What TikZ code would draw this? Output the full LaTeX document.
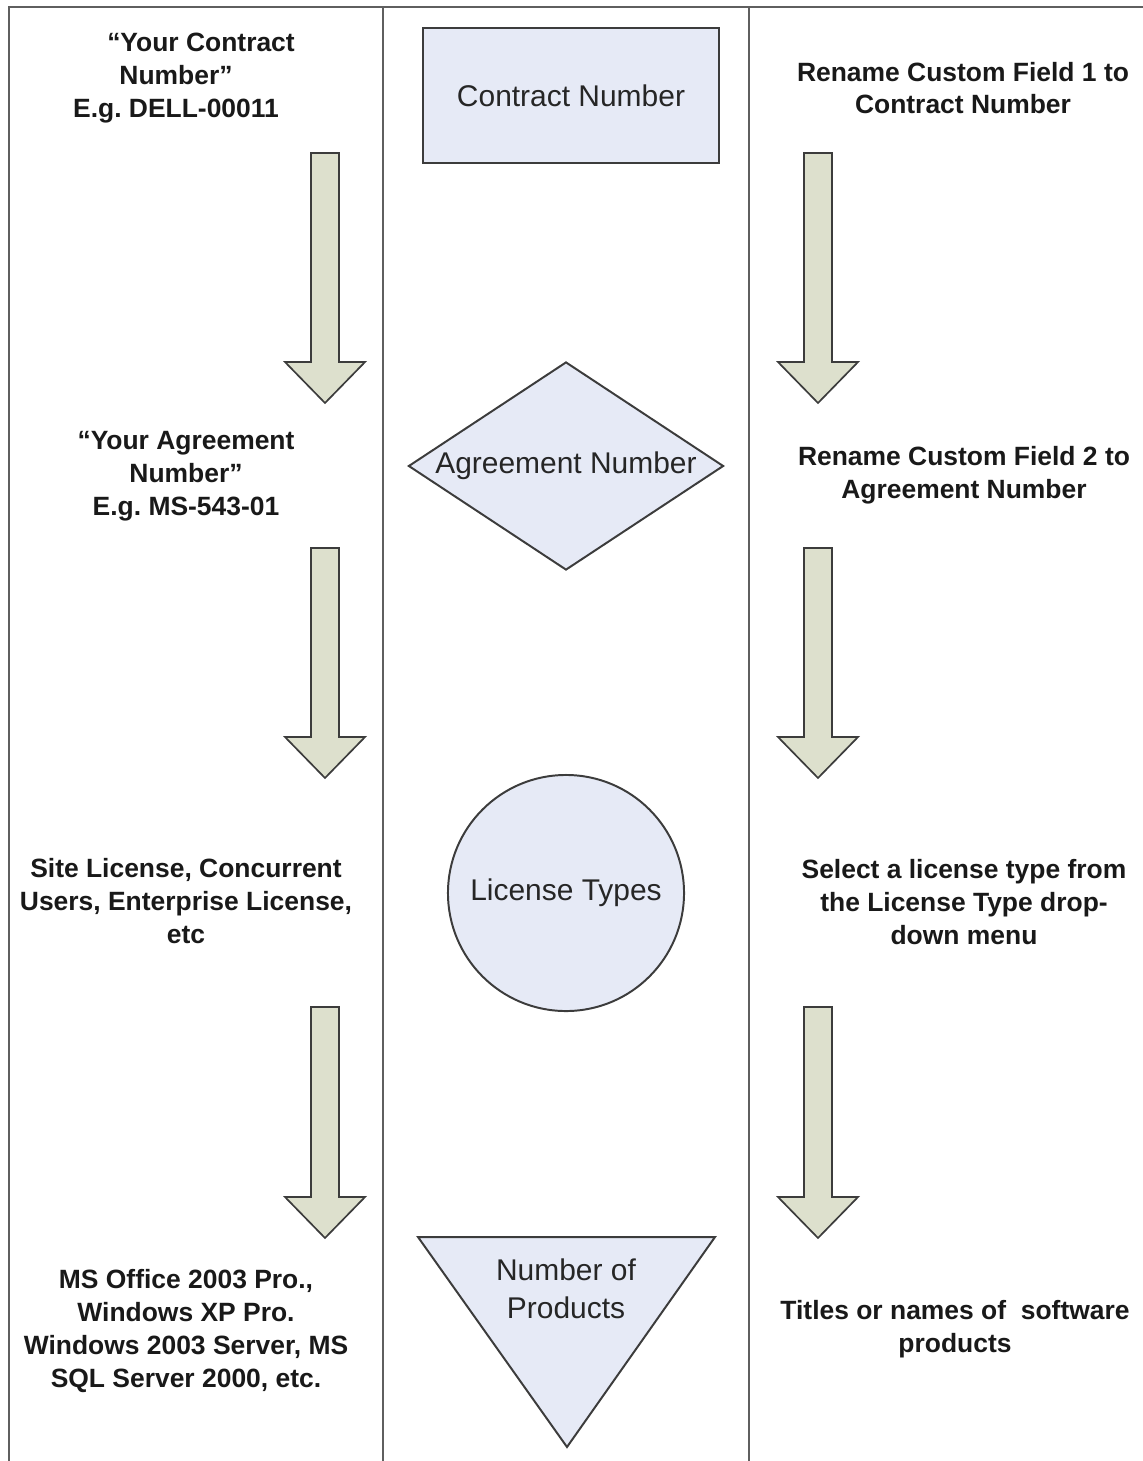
\documentclass[tikz,border=0pt]{standalone}
\usepackage{fontspec}
\setmainfont{Liberation Sans}
\usepackage{tikz}
\usetikzlibrary{shapes.geometric}

\definecolor{shapefill}{RGB}{230,234,246}
\definecolor{arrowfill}{RGB}{221,224,205}
\definecolor{edgegray}{RGB}{60,60,60}
\definecolor{rulegray}{RGB}{95,95,95}

\tikzset{
  sidetext/.style={align=center, inner sep=0pt, text=black!90,
    font=\fontsize{18.8}{23.4}\selectfont\bfseries\frenchspacing},
  shapetext/.style={align=center, inner sep=0pt, text=black!85,
    font=\fontsize{21.3}{26.9}\selectfont},
  chartshape/.style={draw=edgegray, fill=shapefill, line width=1.4pt, shapetext},
  blockarrow/.style={draw=edgegray, fill=arrowfill, line width=1.2pt, line join=miter},
  colrule/.style={draw=rulegray, line width=1.4pt}
}

\begin{document}
\begin{tikzpicture}[x=0.025cm, y=-0.025cm]
\useasboundingbox (0,0) rectangle (1143,1461);
% column rules
\draw[colrule] (9,1461) -- (9,7) -- (1143,7);
\draw[colrule] (383,7) -- (383,1461);
\draw[colrule] (749,7) -- (749,1461);
% middle column
\node[chartshape, rectangle, minimum width=7.4cm, minimum height=3.375cm] (contract) at (571,95.5) {Contract Number};
\node[chartshape, diamond, minimum width=7.875cm, minimum height=5.2cm, label={[shapetext]center:Agreement Number}] (agree) at (566,466) {};
\node[chartshape, circle, minimum size=5.9cm] (lictype) at (566,893) {License Types};
\filldraw[chartshape] (418,1237) -- (715,1237) -- (567,1447) -- cycle;
\node[shapetext] (numprod) at (566,1289) {Number of\\Products};
% block arrows
\foreach \ax in {325,818}{
  \foreach \arrtop/\arrtip in {153/403, 548/778, 1007/1238}{
    \draw[blockarrow] (\ax-14,\arrtop) -- (\ax+14,\arrtop) -- (\ax+14,\arrtip-41)
      -- (\ax+40,\arrtip-41) -- (\ax,\arrtip) -- (\ax-40,\arrtip-41)
      -- (\ax-14,\arrtip-41) -- cycle;
  }
}
% left column
\node[sidetext] (yourcontract) at (176,78) {\hspace*{1.25cm}“Your Contract\\Number”\\E.g. DELL-00011};
\node[sidetext] (youragree) at (186,476) {“Your Agreement\\Number”\\E.g. MS-543-01};
\node[sidetext] (licexamples) at (186,901) {Site License, Concurrent\\Users, Enterprise License,\\etc};
\node[sidetext] (prodexamples) at (186,1331) {MS Office 2003 Pro.,\\Windows XP Pro.\\Windows 2003 Server, MS\\SQL Server 2000, etc.};
% right column
\node[sidetext] (renamecf1) at (963,88) {Rename Custom Field 1 to\\Contract Number};
\node[sidetext] (renamecf2) at (964,475) {Rename Custom Field 2 to\\Agreement Number};
\node[sidetext] (selectlic) at (964,902) {Select a license type from\\the License Type drop-\\down menu};
\node[sidetext] (softtitles) at (955,1329) {Titles or names of\ \ software\\products};
\end{tikzpicture}
\end{document}
